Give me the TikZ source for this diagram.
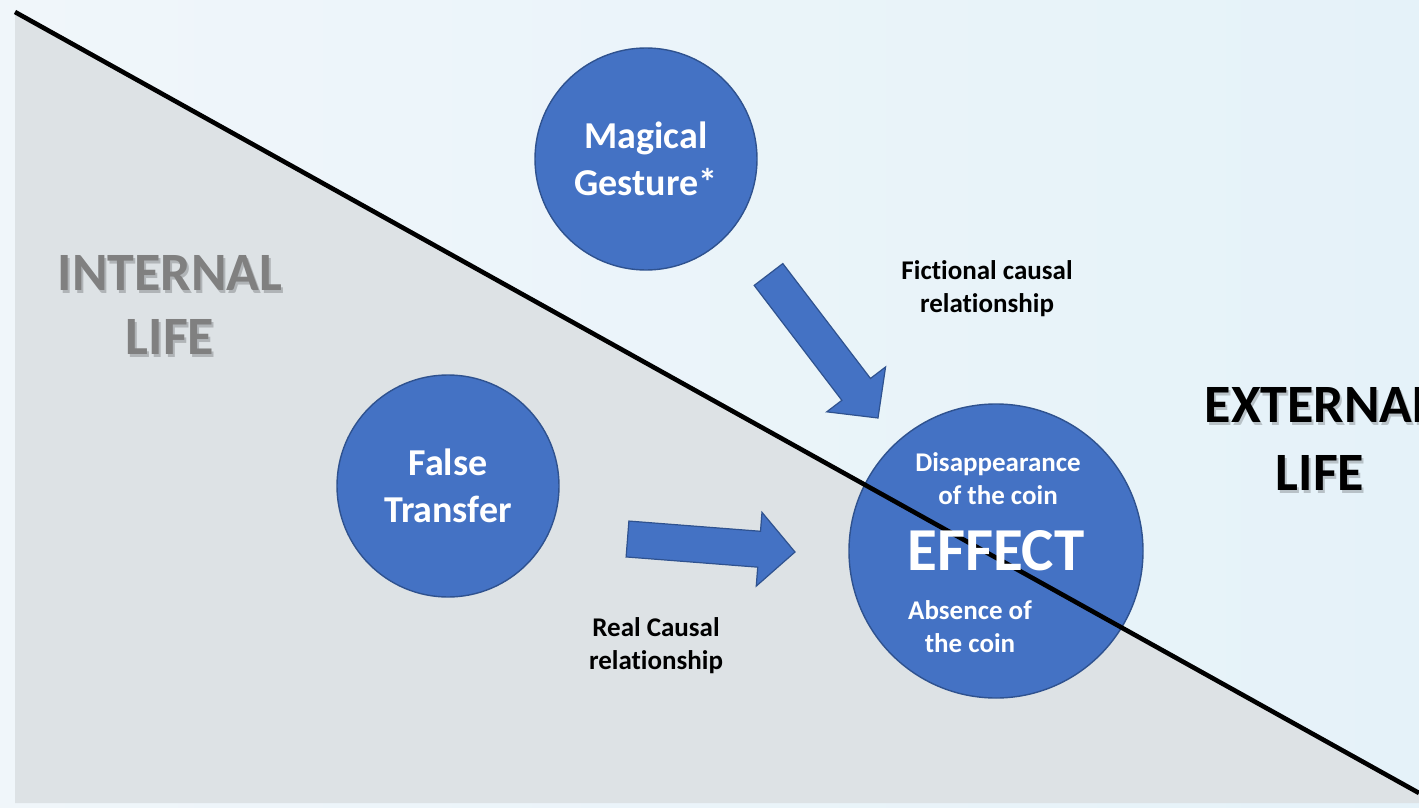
\documentclass[tikz,border=0pt]{standalone}
\usepackage{fontspec}
\setmainfont{Carlito}[Ligatures={NoCommon}]
\usetikzlibrary{positioning,calc}
\definecolor{talk}{HTML}{4472C4}
\definecolor{talkline}{HTML}{2F528F}
\definecolor{sky}{HTML}{F0F6FA}
\definecolor{sky2}{HTML}{E5F2F9}
\definecolor{inner}{HTML}{DDE2E5}
\definecolor{innertext}{HTML}{808080}
\tikzset{
    %Define style for the cause circles
    cause/.style={
    circle,
    draw=talkline, line width=0.7pt,
    fill=talk,
    minimum size=111pt,
    inner sep=0pt,
    text=white,
    align=center,
    font=\fontsize{19}{23.5}\selectfont\bfseries
   },
   effect/.style={
    cause,
    minimum size=147pt
   },
   % Define text styles
   bigword/.style={
    text=white,
    font=\fontsize{30.5}{36}\selectfont\bfseries
   },
   insidetext/.style={
    text=white,
    align=center,
    font=\fontsize{13.5}{16.5}\selectfont\bfseries
   },
   linktext/.style={
    text=black,
    align=center,
    font=\fontsize{13.5}{16.5}\selectfont\bfseries
   },
   side/.style={
    align=center,
    font=\fontsize{27}{32}\selectfont\bfseries
   },
   sideshadow/.style={
    side,
    text=black,
    opacity=0.2
   },
   % Define block arrow style
   pil/.style={
    fill=talk,
    draw=talkline,
    line width=0.6pt,
    line join=miter}
}
% block arrow from tail #1 to tip #2
\newcommand{\blockarrow}[2]{%
  \coordinate (hb) at ($(#2)!18pt!(#1)$);
  \filldraw[pil] ($(#1)!9pt!90:(#2)$) -- ($(hb)!9pt!-90:(#1)$)
    -- ($(hb)!18.5pt!-90:(#1)$) -- (#2) -- ($(hb)!18.5pt!90:(#1)$)
    -- ($(hb)!9pt!90:(#1)$) -- ($(#1)!9pt!-90:(#2)$) -- cycle;}

\begin{document}
\begin{tikzpicture}[x=0.5pt,y=-0.5pt]
		\clip (0,0) rectangle (1419,808);
		% background, outer and inner side
		\shade[left color=sky, right color=sky2] (0,0) rectangle (1419,808);
		\coordinate (d1) at (15,12);
		\coordinate (d2) at (1419,793);
		\fill[inner] (d1) -- (d2) -- (1419,803) -- (15,803) -- cycle;
		\node[sideshadow] at (172,308) {INTERNAL\\LIFE};
		\node[side, text=innertext] (4) at (170,305) {INTERNAL\\LIFE};
		\node[sideshadow] at (1322,442) {EXTERNAL\\[2pt]LIFE};
		\node[side, text=black] (5) at (1320,439) {EXTERNAL\\[2pt]LIFE};
		% circles
		\node[cause] (1) at (646,159) {Magical\\Gesture*};
		\node[cause] (2) at (448,486) {False\\Transfer};
		\node[effect] (3) at (996,551) {};
		% arrows
		\coordinate (6) at (768.5,274.5);
		\coordinate (7) at (878,418);
		\coordinate (8) at (627.5,539);
		\coordinate (9) at (795,552);
		\blockarrow{6}{7}
		\blockarrow{8}{9}
		\node[linktext] (10) at (987,289) {Fictional causal\\relationship};
		\node[linktext] (11) at (656,646) {Real Causal\\relationship};
		% dividing line
		\draw[line width=2.3pt] (d1) -- (d2);
		\node[bigword] at (3) {EFFECT};
		\node[insidetext] (12) at ([shift={(2,-72)}]3.center) {Disappearance\\of the coin};
		\node[insidetext] (13) at ([shift={(-26,76)}]3.center) {Absence of\\the coin};
\end{tikzpicture}
\end{document}
